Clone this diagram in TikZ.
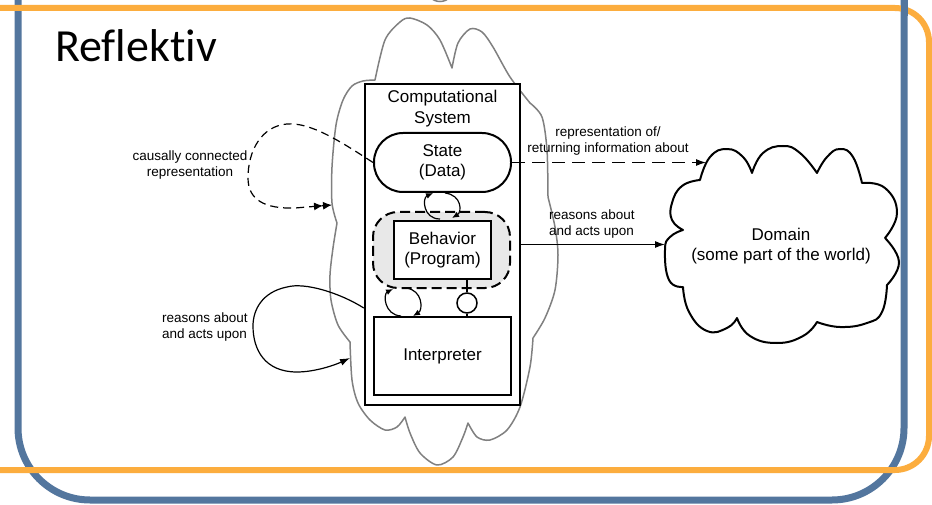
\documentclass[tikz,border=0pt]{standalone}
\usepackage{fontspec}
\setmainfont{Liberation Sans}
\newfontfamily\titlefont[Ligatures={NoCommon}]{Carlito}
\usetikzlibrary{arrows.meta}
\definecolor{frameblue}{RGB}{83,118,158}
\definecolor{frameorange}{RGB}{252,173,62}
\definecolor{cloudgray}{RGB}{128,128,128}
\begin{document}
\begin{tikzpicture}[x=1pt,y=-1pt,
  boxtext/.style={font=\fontsize{17}{20.5}\selectfont, align=center},
  lbl/.style={font=\fontsize{13.5}{16}\selectfont, inner sep=0pt},
  thickbox/.style={draw, line width=2pt, fill=white, inner sep=0pt},
  conn/.style={line width=1.2pt},
  bigarrow/.style={-{Latex[length=10pt,width=7pt]}},
  smallarrow/.style={-{Latex[length=7pt,width=6pt]}},
  cloudline/.style={draw=cloudgray, line width=1.5pt, line join=round},
  domline/.style={draw=black, line width=2pt, line join=round}]
\useasboundingbox (0,0) rectangle (932,505);
\clip (0,0) rectangle (932,505);
\fill[white] (0,0) rectangle (932,505);
% frames
\draw[frameblue, line width=7pt, rounded corners=72pt] (18,-100) -- (18,500) -- (904,500) -- (904,-100);
\draw[cloudgray, line width=1.5pt] (430,-3) .. controls (435,3) and (445,3) .. (450,-3);
\draw[frameorange, line width=6pt, rounded corners=34pt] (-100,8) -- (929,8) -- (929,470) -- (-100,470);
\draw[frameblue, line width=7pt] (904,-2) -- (904,16);
\node[anchor=base west, inner sep=0pt, font=\titlefont\fontsize{46}{50}\selectfont] (title) at (55,62) {Reflektiv};
% gray cloud
\draw[cloudline] plot[smooth] coordinates {(375,80) (385,40) (400,22) (410,18) (427,25) (440,40) (452,68)}
 -- plot[smooth] coordinates {(452,68) (458,43) (470,29) (482,32) (493,47) (510,77) (530,103)}
 -- plot[smooth] coordinates {(530,103) (542,117) (547,150) (548,197)}
 -- plot[smooth] coordinates {(548,197) (555,227) (558,255) (555,290) (545,318) (533,338)}
 -- plot[smooth] coordinates {(533,338) (530,367) (520,407) (507,430) (490,440) (477,437) (468,423)}
 -- plot[smooth] coordinates {(468,423) (463,437) (453,457) (437,465) (420,453) (410,433) (405,417)}
 -- plot[smooth] coordinates {(405,417) (397,427) (385,430) (370,420) (358,403) (352,380) (350,342)}
 -- plot[smooth] coordinates {(350,342) (338,325) (331,300) (330,275) (333,248) (337,223)}
 -- plot[smooth] coordinates {(337,223) (332,203) (332,167) (336,125) (343,100) (352,86) (363,81) (375,80)} -- cycle;
% computational system
\node[thickbox, line width=2.5pt, minimum width=155pt, minimum height=321pt] (comp) at (442.5,244.5) {};
\node[boxtext, inner sep=0pt] (comptitle) at (442.5,108.5) {Computational\\System};
\node[thickbox, rounded corners=29pt, minimum width=137pt, minimum height=59pt, boxtext] (state) at (442.5,162.5) {State\\(Data)};
\node[draw, line width=2pt, dash pattern=on 10pt off 5pt, fill=gray!18, rounded corners=25pt, minimum width=137pt, minimum height=76pt] (region) at (441.5,250) {};
\node[thickbox, minimum width=97pt, minimum height=58pt, boxtext] (behavior) at (442.5,250) {Behavior\\(Program)};
\node[thickbox, minimum width=137pt, minimum height=78pt, boxtext] (interp) at (442.5,356) {Interpreter};
\node[draw, circle, line width=1.5pt, minimum size=20pt, inner sep=0pt, fill=white] (lolli) at (467,303) {};
\draw[conn] (behavior.south -| lolli) -- (lolli.north);
\draw[conn] (lolli.south) -- (interp.north -| lolli);
% loops
\coordinate (sbA) at (440,219); \coordinate (sbB) at (433,193);
\coordinate (sbC) at (445,193); \coordinate (sbD) at (452,218);
\draw[conn, smallarrow] (sbA) .. controls (423,219) and (422,198) .. (sbB);
\draw[conn, smallarrow] (sbC) .. controls (462,195) and (462,212) .. (sbD);
\coordinate (biA) at (401,316); \coordinate (biB) at (393,289);
\coordinate (biC) at (406,288); \coordinate (biD) at (413,316);
\draw[conn, smallarrow] (biA) .. controls (384,315) and (383,294) .. (biB);
\draw[conn, smallarrow] (biC) .. controls (423,290) and (423,310) .. (biD);
% domain cloud
\draw[domline] plot[smooth, tension=0.8] coordinates {(700,180) (710,157) (727,149) (743,157) (752,173)}
 -- plot[smooth, tension=0.8] coordinates {(752,173) (763,153) (783,146) (800,153) (817,173)}
 -- plot[smooth, tension=0.8] coordinates {(817,173) (827,157) (840,149) (853,157) (862,183)}
 -- plot[smooth, tension=0.8] coordinates {(862,183) (885,188) (897,213) (885,238)}
 -- plot[smooth, tension=0.8] coordinates {(885,238) (899,262) (887,285)}
 -- plot[smooth, tension=0.8] coordinates {(887,285) (882,312) (867,323) (840,327) (817,322)}
 -- plot[smooth, tension=0.8] coordinates {(817,322) (803,336) (777,343) (750,336) (737,318)}
 -- plot[smooth, tension=0.8] coordinates {(737,318) (727,328) (707,331) (689,312) (683,287)}
 -- plot[smooth, tension=0.8] coordinates {(683,287) (669,280) (665,250) (670,237) (683,230)}
 -- plot[smooth, tension=0.8] coordinates {(683,230) (672,220) (672,203) (682,186) (700,180)} -- cycle;
\node[boxtext] (domain) at (781,246) {Domain\\(some part of the world)};
\coordinate (domW) at (665,244.5);
\coordinate (domNW) at (706,162.5);
% right connectors
\draw[conn, dash pattern=on 13pt off 7pt, bigarrow] (state.east) -- (domNW);
\draw[conn, bigarrow] (comp.east) -- (domW);
\node[lbl, align=center] (lblrep) at (608,141.5) {representation of/\\returning information about};
\node[lbl, align=left, anchor=west] (lblreasR) at (549,224.5) {reasons about\\and acts upon};
% left connectors
\coordinate (cloudL1) at (332,205);
\draw[conn, dash pattern=on 8pt off 5pt, -{Latex[length=9pt,width=8pt] Latex[length=9pt,width=8pt]}] (state.west) .. controls (340,141) and (310,122) .. (287,124) .. controls (262,126) and (248,150) .. (248,178) .. controls (248,200) and (265,209) .. (295,208) -- (cloudL1);
\node[lbl, align=center] (lblcaus) at (190,165.5) {causally connected\\representation};
\coordinate (compW) at (comp.west |- 0,308);
\coordinate (cloudL2) at (350,358);
\draw[conn, bigarrow] (compW) .. controls (340,293) and (305,282) .. (287,287) .. controls (262,292) and (253,310) .. (253,326) .. controls (253,350) and (265,372) .. (297,372) .. controls (315,372) and (335,365) .. (cloudL2);
\node[lbl, align=left, anchor=west] (lblreasL) at (162,327.5) {reasons about\\and acts upon};
\end{tikzpicture}
\end{document}
